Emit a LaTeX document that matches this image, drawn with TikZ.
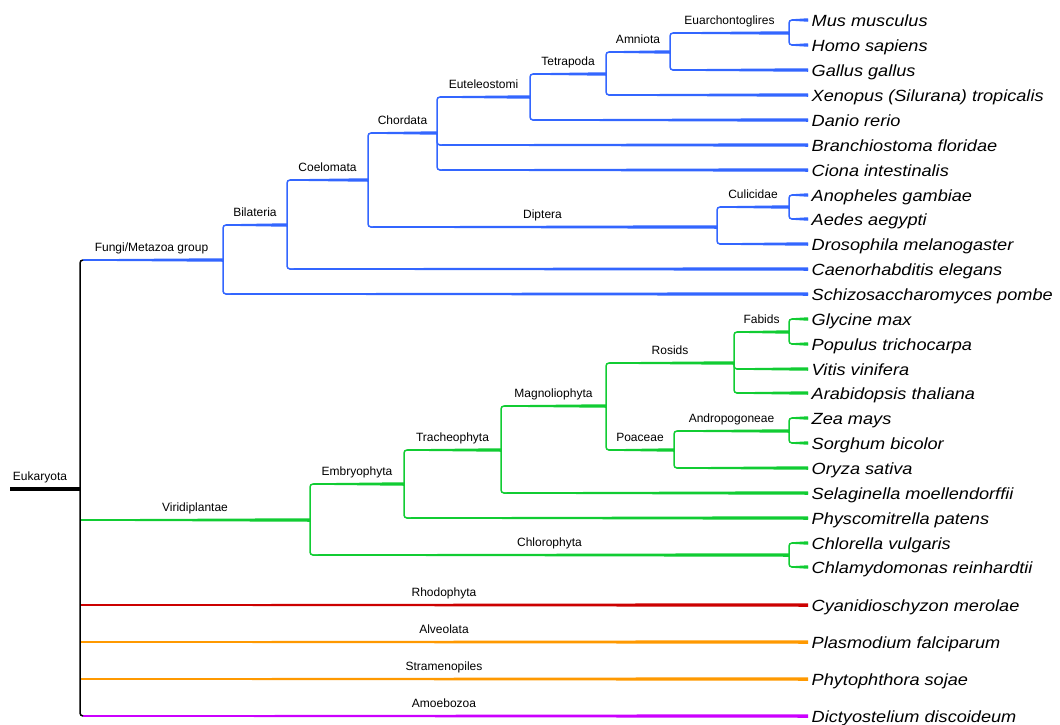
\documentclass[tikz,border=0pt]{standalone}
\usepackage{fontspec}
\setmainfont{Liberation Sans}
\newfontfamily\leaffont[FakeStretch=1.12]{Liberation Sans}
\usetikzlibrary{calc}
\definecolor{cblue}{RGB}{51,102,255}
\definecolor{cgreen}{RGB}{17,204,51}
\definecolor{cred}{RGB}{204,0,0}
\definecolor{corange}{RGB}{255,153,0}
\definecolor{cpurple}{RGB}{204,0,255}
\tikzset{
  br/.style={line width=1.5pt, rounded corners=3pt},
  leaf/.style={anchor=west, inner xsep=3.5pt, inner ysep=0pt, text height=12.6pt, text depth=0pt,
    font=\leaffont\itshape\fontsize{16.2}{18}\selectfont},
  clab/.style={anchor=base, inner sep=0pt, yshift=8.5pt, font=\fontsize{12}{14}\selectfont},
}
% tapered thickening of a horizontal branch
\newcommand{\taper}[3]{%
  \fill[#1] ($(#2)+(0,-0.75)$) -- ($(#3)+(0,-1.75)$) -- ($(#3)+(0,1.75)$) -- ($(#2)+(0,0.75)$) -- cycle;}
% branch from parent to child
\newcommand{\brEdge}[3]{%
  \draw[#1, br] (#2) |- (#3);
  \taper{#1}{$(#2|-#3)+(2.5,0)$}{#3}}
% labelled branch
\newcommand{\clade}[5]{%
  \brEdge{#1}{#2}{#3}
  \node[clab] (#4) at ($(#2|-#3)!0.5!(#3)$) {#5};}
% branch leaving the root
\newcommand{\rootEdge}[4]{%
  \draw[#1, br] ($(eu|-#2)+(#3,0)$) -- (#2);
  \taper{#1}{$(eu|-#2)+(#3,0)$}{#2}
  \node[clab] (#2lab) at ($(eu|-#2)!0.5!(#2)$) {#4};}

\begin{document}
\begin{tikzpicture}[x=1pt, y=-1pt]
\useasboundingbox (0,0) rectangle (1060,724);

% ---------- leaves ----------
\node[leaf] (mus) at (808,20) {Mus musculus};
\node[leaf] (homo) at (808,45) {Homo sapiens};
\node[leaf] (gallus) at (808,70) {Gallus gallus};
\node[leaf] (xenopus) at (808,95) {Xenopus (Silurana) tropicalis};
\node[leaf] (danio) at (808,120) {Danio rerio};
\node[leaf] (branchio) at (808,145) {Branchiostoma floridae};
\node[leaf] (ciona) at (808,170) {Ciona intestinalis};
\node[leaf] (anoph) at (808,195) {Anopheles gambiae};
\node[leaf] (aedes) at (808,219) {Aedes aegypti};
\node[leaf] (dros) at (808,244) {Drosophila melanogaster};
\node[leaf] (caeno) at (808,269) {Caenorhabditis elegans};
\node[leaf] (schizo) at (808,294) {Schizosaccharomyces pombe};
\node[leaf] (glycine) at (808,319) {Glycine max};
\node[leaf] (populus) at (808,344) {Populus trichocarpa};
\node[leaf] (vitis) at (808,369) {Vitis vinifera};
\node[leaf] (arab) at (808,393) {Arabidopsis thaliana};
\node[leaf] (zea) at (808,418) {Zea mays};
\node[leaf] (sorghum) at (808,443) {Sorghum bicolor};
\node[leaf] (oryza) at (808,468) {Oryza sativa};
\node[leaf] (selag) at (808,493) {Selaginella moellendorffii};
\node[leaf] (physco) at (808,518) {Physcomitrella patens};
\node[leaf] (chlorella) at (808,543) {Chlorella vulgaris};
\node[leaf] (chlamy) at (808,567) {Chlamydomonas reinhardtii};
\node[leaf] (cyan) at (808,605) {Cyanidioschyzon merolae};
\node[leaf] (plasmo) at (808,642) {Plasmodium falciparum};
\node[leaf] (phyto) at (808,679) {Phytophthora sojae};
\node[leaf] (dicty) at (808,716) {Dictyostelium discoideum};

% ---------- internal nodes ----------
\coordinate (eu0) at (10,489);
\coordinate (eu) at (80,489);
\coordinate (fm) at (223,260);
\coordinate (bil) at (287,225);
\coordinate (coel) at (368,180);
\coordinate (chord) at (437,133);
\coordinate (eut) at (530,97);
\coordinate (tetra) at (606,74);
\coordinate (amn) at (670,52);
\coordinate (euar) at (789,33);
\coordinate (dipt) at (717,227);
\coordinate (cul) at (789,207);
\coordinate (vir) at (310,520);
\coordinate (emb) at (404,484);
\coordinate (trach) at (501,450);
\coordinate (magn) at (606,406);
\coordinate (ros) at (734,363);
\coordinate (fab) at (789,332);
\coordinate (poa) at (674,450);
\coordinate (andro) at (789,431);
\coordinate (chloro) at (789,555);

% ---------- blue clade ----------
\clade{cblue}{fm}{bil}{lbil}{Bilateria}
\brEdge{cblue}{fm}{schizo.west}
\clade{cblue}{bil}{coel}{lcoel}{Coelomata}
\brEdge{cblue}{bil}{caeno.west}
\clade{cblue}{coel}{chord}{lchord}{Chordata}
\clade{cblue}{coel}{dipt}{ldipt}{Diptera}
\clade{cblue}{chord}{eut}{leut}{Euteleostomi}
\brEdge{cblue}{chord}{branchio.west}
\brEdge{cblue}{chord}{ciona.west}
\clade{cblue}{eut}{tetra}{ltetra}{Tetrapoda}
\brEdge{cblue}{eut}{danio.west}
\clade{cblue}{tetra}{amn}{lamn}{Amniota}
\brEdge{cblue}{tetra}{xenopus.west}
\clade{cblue}{amn}{euar}{leuar}{Euarchontoglires}
\brEdge{cblue}{amn}{gallus.west}
\brEdge{cblue}{euar}{mus.west}
\brEdge{cblue}{euar}{homo.west}
\clade{cblue}{dipt}{cul}{lcul}{Culicidae}
\brEdge{cblue}{dipt}{dros.west}
\brEdge{cblue}{cul}{anoph.west}
\brEdge{cblue}{cul}{aedes.west}

% ---------- green clade ----------
\clade{cgreen}{vir}{emb}{lemb}{Embryophyta}
\clade{cgreen}{vir}{chloro}{lchloro}{Chlorophyta}
\clade{cgreen}{emb}{trach}{ltrach}{Tracheophyta}
\brEdge{cgreen}{emb}{physco.west}
\clade{cgreen}{trach}{magn}{lmagn}{Magnoliophyta}
\brEdge{cgreen}{trach}{selag.west}
\clade{cgreen}{magn}{ros}{lros}{Rosids}
\clade{cgreen}{magn}{poa}{lpoa}{Poaceae}
\clade{cgreen}{ros}{fab}{lfab}{Fabids}
\brEdge{cgreen}{ros}{vitis.west}
\brEdge{cgreen}{ros}{arab.west}
\brEdge{cgreen}{fab}{glycine.west}
\brEdge{cgreen}{fab}{populus.west}
\clade{cgreen}{poa}{andro}{landro}{Andropogoneae}
\brEdge{cgreen}{poa}{oryza.west}
\brEdge{cgreen}{andro}{zea.west}
\brEdge{cgreen}{andro}{sorghum.west}
\brEdge{cgreen}{chloro}{chlorella.west}
\brEdge{cgreen}{chloro}{chlamy.west}

% ---------- root branches ----------
\rootEdge{cblue}{fm}{3}{Fungi/Metazoa group}
\rootEdge{cgreen}{vir}{0}{Viridiplantae}
\rootEdge{cred}{cyan.west}{0}{Rhodophyta}
\rootEdge{corange}{plasmo.west}{0}{Alveolata}
\rootEdge{corange}{phyto.west}{0}{Stramenopiles}
\rootEdge{cpurple}{dicty.west}{3}{Amoebozoa}

% ---------- root ----------
\draw[black, line width=4pt] (eu0) -- (eu);
\draw[black, br] ($(eu|-fm)+(3,0)$) -| (eu) |- ($(eu|-dicty.west)+(3,0)$);
\node[clab] (leu) at (40,489) {Eukaryota};
\end{tikzpicture}
\end{document}
